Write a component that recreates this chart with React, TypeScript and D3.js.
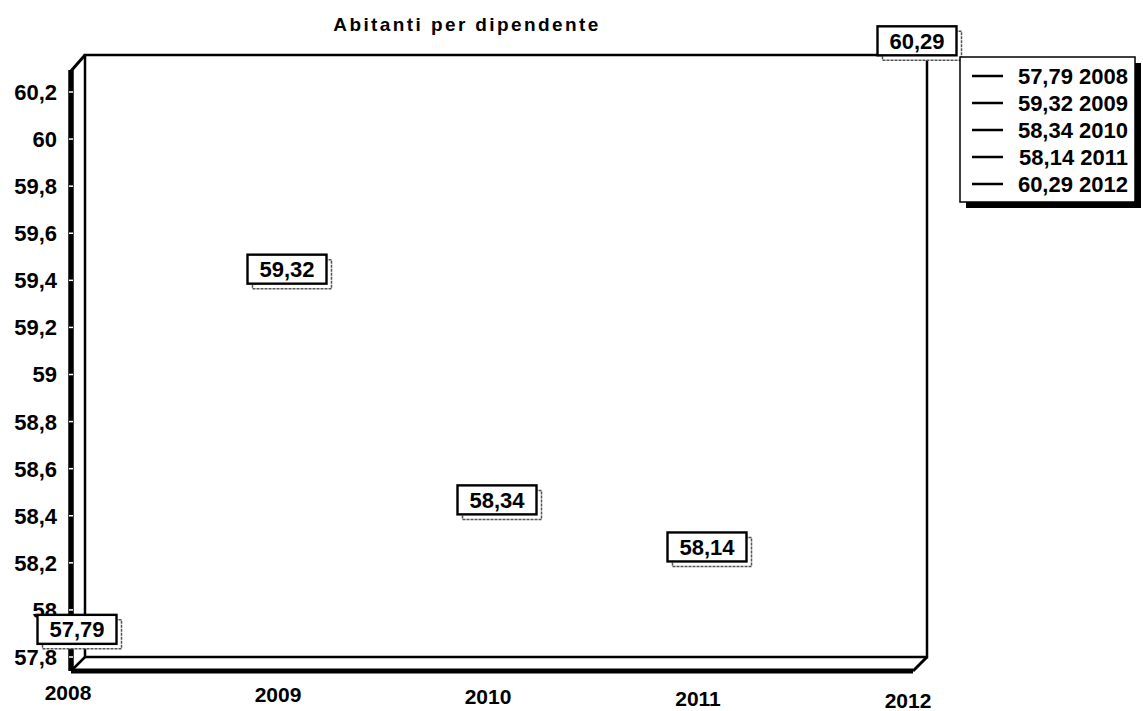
import * as d3 from "d3"
import React from "react"

// chart data
const title = "Abitanti per dipendente"
const years = ["2008", "2009", "2010", "2011", "2012"]
const values = [57.79, 59.32, 58.34, 58.14, 60.29]
const yTicks = [57.8, 58, 58.2, 58.4, 58.6, 58.8, 59, 59.2, 59.4, 59.6, 59.8, 60, 60.2]

const W = 1143
const H = 711
const FONT = "'Liberation Sans', Arial, sans-serif"

// 3d frame
const wall = { left: 85, right: 927, top: 55, bottom: 657 }
const depth = 14

const it = d3.formatLocale({ decimal: ",", thousands: ".", grouping: [3], currency: ["", "€"] })
const fmtVal = it.format(".2f")
const fmtTick = it.format(".1~f")

const App = () => {
    const scaleX = d3.scalePoint<string>().domain(years).range([68, 908])
    const scaleY = d3.scaleLinear().domain([57.8, 60.2]).range([657, 92])

    const frontX = wall.left - depth
    const frontBottom = wall.bottom + depth

    const boxW = 79
    const boxH = 29

    return (
        <div style={{ position: "absolute", left: 0, top: 0 }}>
            <svg width={W} height={H} style={{ display: "block", background: "#fff" }}>
                {/* title */}
                <text x={467} y={31} textAnchor="middle" fontFamily={FONT} fontSize={19}
                      fontWeight="bold" letterSpacing={2.4}>{title}</text>

                {/* back wall */}
                <rect x={wall.left} y={wall.top} width={wall.right - wall.left}
                      height={wall.bottom - wall.top} fill="#fff" stroke="#000" strokeWidth={2.5} />
                {/* left wall */}
                <path d={`M${frontX},${wall.top + depth + 2} L${wall.left},${wall.top} `}
                      stroke="#000" strokeWidth={3} fill="none" />
                <line x1={frontX} x2={frontX} y1={wall.top + depth + 1} y2={frontBottom}
                      stroke="#000" strokeWidth={5.5} />
                {/* floor */}
                <path d={`M${frontX},${frontBottom} L${wall.left},${wall.bottom}`}
                      stroke="#000" strokeWidth={2.5} fill="none" />
                <line x1={frontX} x2={wall.right - depth} y1={frontBottom} y2={frontBottom}
                      stroke="#000" strokeWidth={5} />
                <path d={`M${wall.right},${wall.bottom} L${wall.right - depth},${frontBottom}`}
                      stroke="#000" strokeWidth={3} fill="none" />

                {/* y ticks */}
                {yTicks.map(t => (
                    <g key={t}>
                        <line x1={frontX - 2} x2={frontX + 2} y1={scaleY(t)} y2={scaleY(t)}
                              stroke="#fff" strokeWidth={1.5} />
                        <text x={57} y={scaleY(t)} dy="0.36em" textAnchor="end" fontFamily={FONT}
                              fontSize={22} fontWeight="bold">{fmtTick(t)}</text>
                    </g>
                ))}

                {/* x labels */}
                {years.map((yr, i) => (
                    <text key={yr} x={scaleX(yr)} y={692 + i * 2} dy="0.36em" textAnchor="middle"
                          fontFamily={FONT} fontSize={21} fontWeight="bold">{yr}</text>
                ))}

                {/* data labels */}
                {values.map((v, i) => {
                    const cx = (scaleX(years[i]) as number) + 9
                    const cy = scaleY(v) - 30
                    return (
                        <g key={years[i]}>
                            <rect x={cx - boxW / 2 + 5} y={cy - boxH / 2 + 5} width={boxW} height={boxH}
                                  fill="#fff" stroke="#555" strokeWidth={1.5} strokeDasharray="3,1" />
                            <rect x={cx - boxW / 2} y={cy - boxH / 2} width={boxW} height={boxH}
                                  fill="#fff" stroke="#000" strokeWidth={2.4} />
                            <text x={cx} y={cy} dy="0.36em" textAnchor="middle" fontFamily={FONT}
                                  fontSize={22} fontWeight="bold">{fmtVal(v)}</text>
                        </g>
                    )
                })}

                {/* legend */}
                <rect x={966} y={63} width={175} height={145} fill="#000" />
                <rect x={960} y={57} width={175} height={145} fill="#fff" stroke="#000" strokeWidth={1.5} />
                {values.map((v, i) => {
                    const ly = 76 + i * 27
                    return (
                        <g key={"lg" + i}>
                            <line x1={972} x2={1003} y1={ly} y2={ly} stroke="#000" strokeWidth={2.5} />
                            <text x={1128} y={ly} dy="0.36em" textAnchor="end" fontFamily={FONT}
                                  fontSize={22} fontWeight="bold">{`${fmtVal(v)} ${years[i]}`}</text>
                        </g>
                    )
                })}
            </svg>
        </div>
    )
}

export default App
